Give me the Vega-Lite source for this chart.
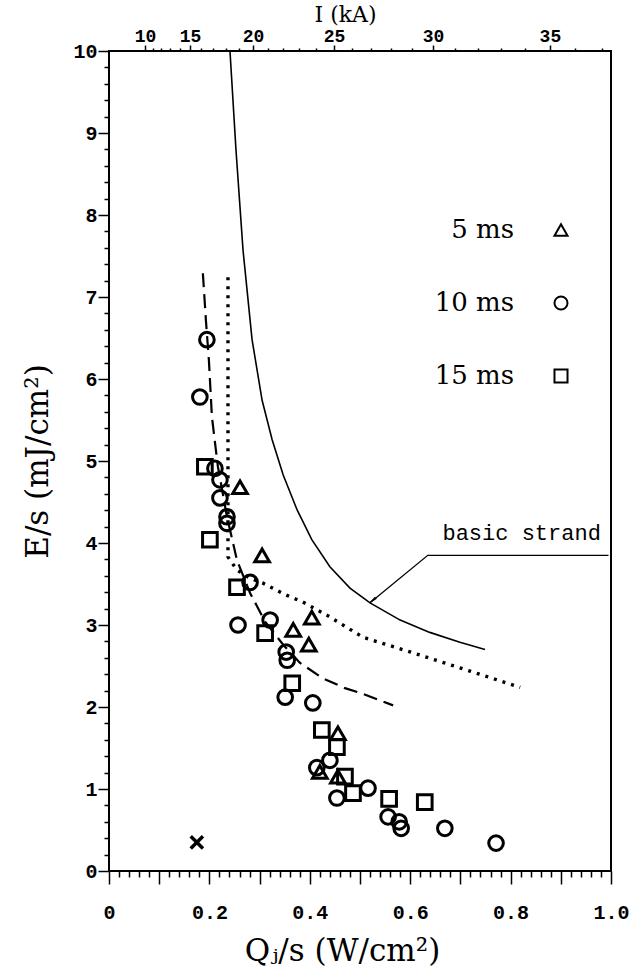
{
  "$schema": "https://vega.github.io/schema/vega-lite/v6.json",
  "width": 502,
  "height": 820,
  "autosize": {"type": "none"},
  "padding": {"left": 109, "top": 51, "right": 27, "bottom": 109},
  "background": "white",
  "config": {
    "view": {"stroke": "black", "strokeWidth": 2},
    "axis": {"domain": false, "grid": false, "zindex": 1, "labelFont": "Liberation Mono", "labelFontWeight": "bold", "labelColor": "black", "tickColor": "black", "titleColor": "black", "labelFlush": false, "labelOverlap": false, "titleFontWeight": "normal"}
  },
  "datasets": {
    "points": [
      {"Q": 0.195, "E": 6.48, "pulse": "10 ms"},
      {"Q": 0.181, "E": 5.78, "pulse": "10 ms"},
      {"Q": 0.211, "E": 4.91, "pulse": "10 ms"},
      {"Q": 0.221, "E": 4.77, "pulse": "10 ms"},
      {"Q": 0.221, "E": 4.55, "pulse": "10 ms"},
      {"Q": 0.235, "E": 4.32, "pulse": "10 ms"},
      {"Q": 0.235, "E": 4.24, "pulse": "10 ms"},
      {"Q": 0.281, "E": 3.52, "pulse": "10 ms"},
      {"Q": 0.257, "E": 3.0, "pulse": "10 ms"},
      {"Q": 0.321, "E": 3.06, "pulse": "10 ms"},
      {"Q": 0.353, "E": 2.67, "pulse": "10 ms"},
      {"Q": 0.355, "E": 2.57, "pulse": "10 ms"},
      {"Q": 0.351, "E": 2.12, "pulse": "10 ms"},
      {"Q": 0.406, "E": 2.05, "pulse": "10 ms"},
      {"Q": 0.414, "E": 1.26, "pulse": "10 ms"},
      {"Q": 0.44, "E": 1.35, "pulse": "10 ms"},
      {"Q": 0.454, "E": 0.89, "pulse": "10 ms"},
      {"Q": 0.516, "E": 1.01, "pulse": "10 ms"},
      {"Q": 0.556, "E": 0.66, "pulse": "10 ms"},
      {"Q": 0.578, "E": 0.6, "pulse": "10 ms"},
      {"Q": 0.582, "E": 0.52, "pulse": "10 ms"},
      {"Q": 0.669, "E": 0.52, "pulse": "10 ms"},
      {"Q": 0.771, "E": 0.34, "pulse": "10 ms"},
      {"Q": 0.191, "E": 4.93, "pulse": "15 ms"},
      {"Q": 0.201, "E": 4.04, "pulse": "15 ms"},
      {"Q": 0.255, "E": 3.46, "pulse": "15 ms"},
      {"Q": 0.311, "E": 2.9, "pulse": "15 ms"},
      {"Q": 0.365, "E": 2.29, "pulse": "15 ms"},
      {"Q": 0.424, "E": 1.72, "pulse": "15 ms"},
      {"Q": 0.454, "E": 1.51, "pulse": "15 ms"},
      {"Q": 0.47, "E": 1.15, "pulse": "15 ms"},
      {"Q": 0.486, "E": 0.95, "pulse": "15 ms"},
      {"Q": 0.558, "E": 0.88, "pulse": "15 ms"},
      {"Q": 0.629, "E": 0.84, "pulse": "15 ms"},
      {"Q": 0.261, "E": 4.68, "pulse": "5 ms"},
      {"Q": 0.305, "E": 3.85, "pulse": "5 ms"},
      {"Q": 0.404, "E": 3.09, "pulse": "5 ms"},
      {"Q": 0.367, "E": 2.94, "pulse": "5 ms"},
      {"Q": 0.398, "E": 2.76, "pulse": "5 ms"},
      {"Q": 0.456, "E": 1.68, "pulse": "5 ms"},
      {"Q": 0.42, "E": 1.21, "pulse": "5 ms"},
      {"Q": 0.456, "E": 1.15, "pulse": "5 ms"}
    ],
    "solid": [
      {"Q": 0.241, "E": 10.0}, {"Q": 0.253, "E": 8.79}, {"Q": 0.267, "E": 7.57}, {"Q": 0.285, "E": 6.48},
      {"Q": 0.305, "E": 5.74}, {"Q": 0.325, "E": 5.26}, {"Q": 0.347, "E": 4.83}, {"Q": 0.375, "E": 4.4},
      {"Q": 0.404, "E": 4.04}, {"Q": 0.44, "E": 3.71}, {"Q": 0.48, "E": 3.45}, {"Q": 0.52, "E": 3.27},
      {"Q": 0.58, "E": 3.06}, {"Q": 0.639, "E": 2.91}, {"Q": 0.699, "E": 2.79}, {"Q": 0.749, "E": 2.7}
    ],
    "dashed": [
      {"Q": 0.187, "E": 7.29}, {"Q": 0.193, "E": 6.72}, {"Q": 0.199, "E": 6.23}, {"Q": 0.205, "E": 5.54},
      {"Q": 0.213, "E": 5.13}, {"Q": 0.217, "E": 4.93}, {"Q": 0.235, "E": 4.32}, {"Q": 0.255, "E": 3.79},
      {"Q": 0.281, "E": 3.39}, {"Q": 0.311, "E": 3.04}, {"Q": 0.347, "E": 2.76}, {"Q": 0.38, "E": 2.54},
      {"Q": 0.426, "E": 2.35}, {"Q": 0.47, "E": 2.23}, {"Q": 0.506, "E": 2.16}, {"Q": 0.566, "E": 2.02}
    ],
    "dotted": [
      {"Q": 0.237, "E": 7.24}, {"Q": 0.237, "E": 5.74}, {"Q": 0.237, "E": 4.52}, {"Q": 0.237, "E": 3.83},
      {"Q": 0.255, "E": 3.67}, {"Q": 0.281, "E": 3.57}, {"Q": 0.307, "E": 3.51}, {"Q": 0.351, "E": 3.37},
      {"Q": 0.386, "E": 3.28}, {"Q": 0.434, "E": 3.12}, {"Q": 0.506, "E": 2.85}, {"Q": 0.606, "E": 2.66},
      {"Q": 0.713, "E": 2.45}, {"Q": 0.819, "E": 2.24}
    ],
    "pointer": [
      {"Q": 0.52, "E": 3.27}, {"Q": 0.635, "E": 3.85}, {"Q": 0.995, "E": 3.85}
    ],
    "cross": [{"Q": 0.175, "E": 0.35}],
    "arrow": [{"Q": 0.527, "E": 3.31}],
    "label": [{"Q": 0.822, "E": 4.12, "text": "basic  strand"}]
  },
  "resolve": {"axis": {"x": "independent", "y": "independent"}},
  "layer": [
    {
      "data": {"name": "points"},
      "mark": {"type": "point", "filled": false, "stroke": "black", "strokeWidth": 3, "size": 215, "opacity": 1},
      "encoding": {
        "x": {"field": "Q", "type": "quantitative", "scale": {"domain": [0, 1], "nice": false},
          "axis": {"orient": "bottom",
            "values": [0, 0.02, 0.04, 0.06, 0.08, 0.1, 0.12, 0.14, 0.16, 0.18, 0.2, 0.22, 0.24, 0.26, 0.28, 0.3, 0.32, 0.34, 0.36, 0.38, 0.4, 0.42, 0.44, 0.46, 0.48, 0.5, 0.52, 0.54, 0.56, 0.58, 0.6, 0.62, 0.64, 0.66, 0.68, 0.7, 0.72, 0.74, 0.76, 0.78, 0.8, 0.82, 0.84, 0.86, 0.88, 0.9, 0.92, 0.94, 0.96, 0.98, 1],
            "tickSize": {"condition": {"test": "abs(datum.value * 10 - round(datum.value * 10)) < 0.01", "value": 13}, "value": 6},
            "tickWidth": 1.5,
            "labelPadding": 18, "labelFontSize": 20,
            "labelExpr": "abs(datum.value * 5 - round(datum.value * 5)) < 0.01 ? (datum.value == 0 ? '0' : format(datum.value, '.1f')) : ''",
            "title": "Qⱼ/s (W/cm²)", "titleFont": "DejaVu Serif", "titleFontSize": 31, "titlePadding": 14, "titleX": 233, "titleAlign": "center"}},
        "y": {"field": "E", "type": "quantitative", "scale": {"domain": [0, 10], "nice": false},
          "axis": {"orient": "left",
            "values": [0, 0.2, 0.4, 0.6, 0.8, 1, 1.2, 1.4, 1.6, 1.8, 2, 2.2, 2.4, 2.6, 2.8, 3, 3.2, 3.4, 3.6, 3.8, 4, 4.2, 4.4, 4.6, 4.8, 5, 5.2, 5.4, 5.6, 5.8, 6, 6.2, 6.4, 6.6, 6.8, 7, 7.2, 7.4, 7.6, 7.8, 8, 8.2, 8.4, 8.6, 8.8, 9, 9.2, 9.4, 9.6, 9.8, 10],
            "tickSize": {"condition": {"test": "abs(datum.value - round(datum.value)) < 0.01", "value": 11}, "value": 5},
            "tickWidth": 1.5,
            "labelPadding": 1, "labelFontSize": 20,
            "labelExpr": "abs(datum.value - round(datum.value)) < 0.01 ? format(datum.value, 'd') : ''",
            "title": "E/s (mJ/cm²)", "titleFont": "DejaVu Serif", "titleFontSize": 31, "titlePadding": 18}},
        "shape": {"field": "pulse", "type": "nominal",
          "scale": {"domain": ["5 ms", "10 ms", "15 ms"], "range": ["triangle-up", "circle", "square"]},
          "legend": {"title": null, "orient": "none", "legendX": 439, "legendY": 166, "padding": 0,
            "labelFont": "DejaVu Serif", "labelFontSize": 26, "labelColor": "black", "labelAlign": "right", "labelOffset": -60, "labelLimit": 0,
            "rowPadding": 47, "symbolSize": 170, "symbolStrokeWidth": 2, "symbolStrokeColor": "black", "symbolFillColor": "transparent"}}
      }
    },
    {
      "data": {"name": "solid"},
      "mark": {"type": "line", "stroke": "black", "strokeWidth": 1.6},
      "encoding": {
        "x": {"field": "Q", "type": "quantitative", "scale": {"domain": [0, 1], "nice": false}, "axis": null},
        "y": {"field": "E", "type": "quantitative", "scale": {"domain": [0, 10], "nice": false}, "axis": null},
        "order": {"value": null}
      }
    },
    {
      "data": {"name": "dashed"},
      "mark": {"type": "line", "stroke": "black", "strokeWidth": 2.2, "strokeDash": [14, 7]},
      "encoding": {
        "x": {"field": "Q", "type": "quantitative", "scale": {"domain": [0, 1], "nice": false}, "axis": null},
        "y": {"field": "E", "type": "quantitative", "scale": {"domain": [0, 10], "nice": false}, "axis": null},
        "order": {"value": null}
      }
    },
    {
      "data": {"name": "dotted"},
      "mark": {"type": "line", "stroke": "black", "strokeWidth": 3.4, "strokeDash": [3, 6]},
      "encoding": {
        "x": {"field": "Q", "type": "quantitative", "scale": {"domain": [0, 1], "nice": false},
          "axis": {"orient": "top",
            "values": [0.0717, 0.0868, 0.1032, 0.1212, 0.1405, 0.1613, 0.1836, 0.2072, 0.2323, 0.2588, 0.2868, 0.3162, 0.347, 0.3793, 0.413, 0.4481, 0.4847, 0.5227, 0.5621, 0.603, 0.6453, 0.6891, 0.7342, 0.7808, 0.8289, 0.8783, 0.9292, 0.9816],
            "tickSize": {"condition": {"test": "round(sqrt(datum.value / 0.000717)) % 5 == 0", "value": 6}, "value": 3},
            "tickWidth": 1.5,
            "labelPadding": 0, "labelFontSize": 18,
            "labelExpr": "round(sqrt(datum.value / 0.000717)) % 5 == 0 ? format(round(sqrt(datum.value / 0.000717)), 'd') : ''",
            "title": "I (kA)", "titleFont": "DejaVu Serif", "titleFontSize": 22, "titleX": 236, "titleY": -25, "titleBaseline": "bottom", "titleAlign": "center"}},
        "y": {"field": "E", "type": "quantitative", "scale": {"domain": [0, 10], "nice": false}, "axis": null},
        "order": {"value": null}
      }
    },
    {
      "data": {"name": "cross"},
      "mark": {"type": "point", "shape": "M-1,-1L1,1M-1,1L1,-1", "size": 150, "stroke": "black", "strokeWidth": 3.5, "filled": false, "opacity": 1},
      "encoding": {
        "x": {"field": "Q", "type": "quantitative", "scale": {"domain": [0, 1], "nice": false}, "axis": null},
        "y": {"field": "E", "type": "quantitative", "scale": {"domain": [0, 10], "nice": false}, "axis": null}
      }
    },
    {
      "data": {"name": "pointer"},
      "mark": {"type": "line", "stroke": "black", "strokeWidth": 1.3},
      "encoding": {
        "x": {"field": "Q", "type": "quantitative", "scale": {"domain": [0, 1], "nice": false}, "axis": null},
        "y": {"field": "E", "type": "quantitative", "scale": {"domain": [0, 10], "nice": false}, "axis": null},
        "order": {"value": null}
      }
    },
    {
      "data": {"name": "arrow"},
      "mark": {"type": "point", "shape": "wedge", "size": 90, "angle": 232, "filled": true, "fill": "black", "stroke": "black", "strokeWidth": 0.5, "opacity": 1},
      "encoding": {
        "x": {"field": "Q", "type": "quantitative", "scale": {"domain": [0, 1], "nice": false}, "axis": null},
        "y": {"field": "E", "type": "quantitative", "scale": {"domain": [0, 10], "nice": false}, "axis": null}
      }
    },
    {
      "data": {"name": "label"},
      "mark": {"type": "text", "font": "Liberation Mono", "fontSize": 22, "color": "black", "align": "center", "baseline": "middle"},
      "encoding": {
        "x": {"field": "Q", "type": "quantitative", "scale": {"domain": [0, 1], "nice": false}, "axis": null},
        "y": {"field": "E", "type": "quantitative", "scale": {"domain": [0, 10], "nice": false}, "axis": null},
        "text": {"field": "text"}
      }
    }
  ]
}
